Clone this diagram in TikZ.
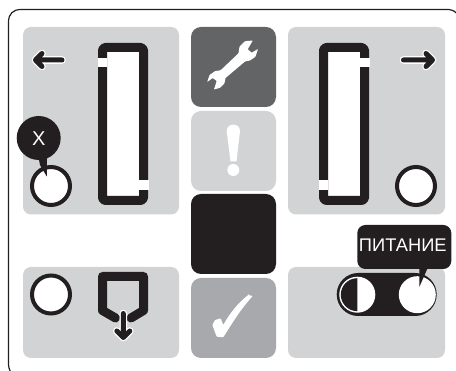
\documentclass[tikz,border=0pt]{standalone}
\usepackage{fontspec}
\setmainfont{Liberation Sans}
\definecolor{ink}{HTML}{231F20}
\definecolor{panel}{HTML}{D1D3D4}
\definecolor{dgray}{HTML}{636466}
\definecolor{mgray}{HTML}{A7A9AC}
\tikzset{
  panelbox/.style={fill=panel,rounded corners=8pt},
  ring/.style={draw=ink,line width=4pt,fill=white},
  halo/.style={draw=white,line width=7.6pt,line cap=round,line join=round},
  shaft/.style={draw=ink,line width=5pt,line cap=round,line join=round},
  label/.style={text=white,font=\fontsize{18.3}{20}\selectfont,inner sep=0pt},
  glyph/.style={fill=white,rounded corners=0.6pt}
}
\begin{document}
\begin{tikzpicture}[x=1pt,y=-1pt]
\useasboundingbox (0,0) rectangle (456,371);
\fill[white] (0,0) rectangle (456,371);
% outer frame
\draw[ink,line width=1.2pt] (10.5,372) .. controls (9,369) and (8.5,367) .. (8.5,362) -- (8.5,22)
  .. controls (8.5,14) and (13,9.5) .. (21,9.5) -- (449,9.5) .. controls (452,9.5) and (454,11) .. (457,13.5);
% panels
\fill[panelbox] (23,27) rectangle (179,214.5);
\fill[panelbox] (288,27) rectangle (445,214.5);
\fill[panelbox] (23,267) rectangle (179,358);
\fill[panelbox] (288,267) rectangle (445,358);
\fill[dgray,rounded corners=10pt] (191,27) rectangle (276,107);
\fill[panel,rounded corners=10pt] (191,111) rectangle (276,191);
\fill[ink,rounded corners=10pt] (191,194) rectangle (276,274);
\fill[mgray,rounded corners=10pt] (191,278) rectangle (276,358);
% wrench
\fill[glyph] (252.8,40.5) -- (245,41.2) -- (239.5,46.7) -- (238.5,53.3) -- (220.7,70.2) -- (215,71.2) -- (209.5,75)
  -- (207.2,82) -- (212.7,78) -- (216.7,81) -- (214,89.5) -- (220,87.8) -- (224.5,83.3) -- (225.5,78)
  -- (245,61.5) -- (250,60.5) -- (255.5,56.7) -- (258,49) -- (251.7,52.7) -- (247.7,49.3) -- cycle;
% exclamation mark
\fill[white] (226.7,131) .. controls (226.7,122.5) and (240,122.5) .. (240,131)
  -- (236.5,161.5) -- (230.5,161.5) -- cycle;
\fill[white] (233.3,170) circle[radius=6];
% check mark
\fill[white,rounded corners=0.8pt] (248.3,295) -- (252.7,296) .. controls (240,310) and (231,325) .. (223.3,337.3)
  -- (216.7,336.7) -- (212.3,325) -- (215,320) -- (220.7,318.3) -- (223.3,325)
  .. controls (230,313) and (238,303) .. cycle;
% left slider
\draw[ink,fill=white,line width=9pt,rounded corners=3pt,line join=round] (102.5,47.5) rectangle (143.5,200.5);
\fill[white] (97.5,58) rectangle (107,67.5);
\fill[white] (139,180.5) rectangle (148.5,190);
% right slider
\draw[ink,fill=white,line width=9pt,rounded corners=3pt,line join=round] (323.5,47.5) rectangle (364.5,200.5);
\fill[white] (360,58) rectangle (369.5,67.5);
\fill[white] (318.5,180.5) rectangle (328,190);
% arrows
\draw[halo] (62,60) -- (35.5,60) (42,53.5) -- (35.5,60) -- (42,66.5);
\draw[shaft] (62,60) -- (35.5,60) (42,53.5) -- (35.5,60) -- (42,66.5);
\draw[halo] (403.5,60) -- (432.5,60) (426,53.5) -- (432.5,60) -- (426,66.5);
\draw[shaft] (403.5,60) -- (432.5,60) (426,53.5) -- (432.5,60) -- (426,66.5);
% circles
\draw[ring] (51,186) circle[radius=19];
\draw[ring] (416,186) circle[radius=19];
\draw[ring] (51,294.5) circle[radius=19];
% X bubble
\fill[ink] (38.7,138) circle[radius=22];
\fill[ink] (38,155) -- (40,165) -- (46.8,176.5) -- (46.8,155) -- cycle;
\node[label,font=\fontsize{20}{20}\selectfont] (xlabel) at (38.7,138.5) {X};
% tray
\draw[ink,line width=9pt,line join=round,line cap=round] (115.5,318) -- (102.5,310.5) -- (102.5,276.5) -- (143.5,276.5) -- (143.5,310.5) -- (131,318);
\draw[halo] (123.3,313.5) -- (123.3,337.5) (116.8,331) -- (123.3,337.5) -- (129.8,331);
\draw[shaft] (123.3,313.5) -- (123.3,337.5) (116.8,331) -- (123.3,337.5) -- (129.8,331);
% power switch
\fill[ink,rounded corners=21.5pt] (336.7,273) rectangle (436.7,316);
\fill[white] (357.3,294.7) circle[radius=18];
\fill[ink] (357.3,311.2) arc[start angle=90,end angle=270,radius=16.5] -- cycle;
\fill[white] (417.3,294.7) circle[radius=18.5];
% power bubble
\fill[ink,rounded corners=8pt] (357.3,225) rectangle (451.3,269);
\fill[ink] (419.3,265) -- (419.3,287) -- (429,265) -- cycle;
\node[label] (powerlabel) at (402.8,245) {ПИТАНИЕ};
\end{tikzpicture}
\end{document}
